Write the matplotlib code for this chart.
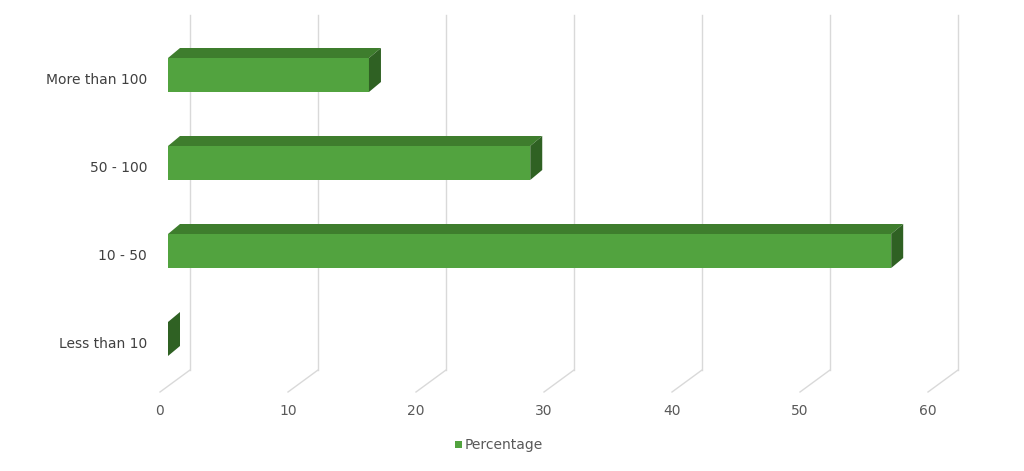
import matplotlib
matplotlib.use("Agg")
import matplotlib.pyplot as plt
from matplotlib.patches import Polygon, Rectangle

categories = ["More than 100", "50 - 100", "10 - 50", "Less than 10"]
values = [15.7, 28.3, 56.5, 0.0]
ticks = [0, 10, 20, 30, 40, 50, 60]

PX = 12.8  # pixels per unit
fig = plt.figure(figsize=(10.24, 4.71), dpi=100)
ax = fig.add_axes([0, 0, 1, 1])
ax.set_xlim(-160 / PX, (1024 - 160) / PX)
ax.set_ylim(471, 0)
ax.axis("off")

grid = "#d9d9d9"
back = 30 / PX
for t in ticks:
    ax.plot([t, t + back], [392, 370], color=grid, lw=1, zorder=1)
    ax.plot([t + back, t + back], [370, 15], color=grid, lw=1, zorder=1)
    ax.text(t, 411, str(t), ha="center", va="center", fontsize=10, color="#595959")

front_c, top_c, side_c = "#52a33f", "#3e7d2d", "#2f6123"
off = 8 / PX
dx, dy = 12 / PX, 10
h = 17
for i, (c, v) in enumerate(zip(categories, values)):
    yc = 75 + 88 * i
    x0, x1 = off, off + v
    ax.add_patch(Rectangle((x0, yc - h), v, 2 * h, facecolor=front_c, edgecolor="none", zorder=3))
    ax.add_patch(Polygon([(x0, yc - h), (x1, yc - h), (x1 + dx, yc - h - dy), (x0 + dx, yc - h - dy)],
                         facecolor=top_c, edgecolor="none", zorder=3))
    ax.add_patch(Polygon([(x1, yc - h), (x1 + dx, yc - h - dy), (x1 + dx, yc + h - dy), (x1, yc + h)],
                         facecolor=side_c, edgecolor="none", zorder=3))
    ax.text(-13 / PX, yc + 5, c, ha="right", va="center", fontsize=10, color="#404040")

ax.add_patch(Rectangle((295 / PX, 441), 7 / PX, 7, facecolor=front_c, edgecolor="none"))
ax.text(305 / PX, 445, "Percentage", ha="left", va="center", fontsize=10, color="#595959")

fig.savefig("out.png", dpi=100)
